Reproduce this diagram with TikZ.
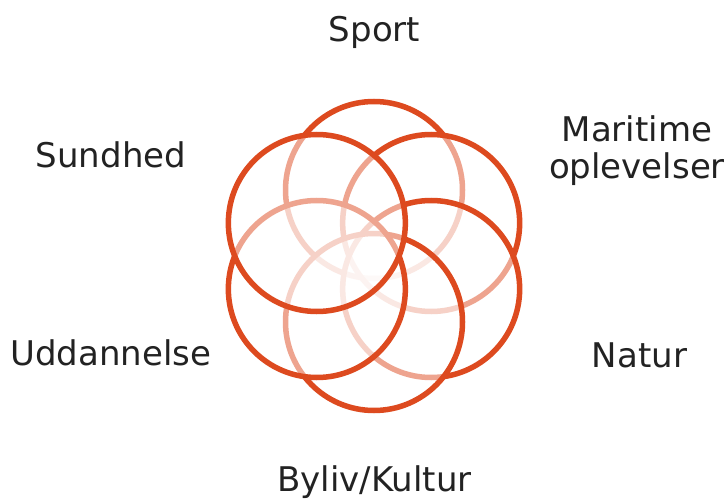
\documentclass[tikz,border=0pt]{standalone}
\usepackage{fontspec}
\setmainfont{DejaVu Sans}
\usetikzlibrary{positioning}

\definecolor{petalred}{RGB}{221,74,31}
\definecolor{labelgray}{RGB}{34,34,34}

\begin{document}
\begin{tikzpicture}[
		x=1pt, y=1pt,
		% Flower petals (white veil over the ones drawn before)
		petal/.style={
				circle, draw=petalred, line width=5.5pt,
				fill=white, fill opacity=0.5, draw opacity=1,
				minimum size=177pt, inner sep=0pt
			},
		% Area labels round the flower
		arealabel/.style={
				font=\fontsize{34}{36}\selectfont, text=labelgray,
				inner sep=0pt, anchor=base, align=center
			}
	]

	% ==========================================
	% 1. CANVAS
	% ==========================================
	\useasboundingbox (0,0) rectangle (728,499);
	\coordinate (hub) at (374,243);

	% ==========================================
	% 2. PETALS (clockwise from the top)
	% ==========================================
	\foreach \ang [count=\i] in {90,30,-30,-90,-150,150} {
		\node[petal] (petal\i) at ([shift={(\ang:66)}]hub) {};
	}

	% ==========================================
	% 3. LABELS
	% ==========================================
	\node[arealabel] (sport) at (374.5,457) {Sport};
	\node[arealabel] (maritime) at (637,321) {Maritime\\[0pt]oplevelser};
	\node[arealabel] (natur) at (639.5,132) {Natur};
	\node[arealabel] (byliv) at (374.5,8) {Byliv/Kultur};
	\node[arealabel] (uddannelse) at (111,134) {Uddannelse};
	\node[arealabel] (sundhed) at (111,331) {Sundhed};

\end{tikzpicture}
\end{document}
